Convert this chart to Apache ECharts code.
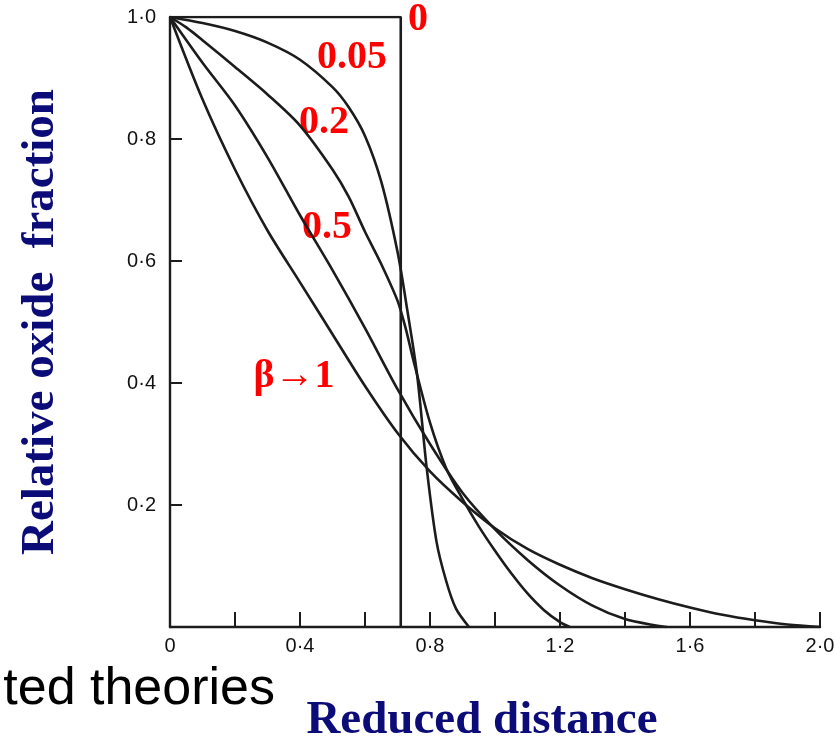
<!DOCTYPE html>
<html>
<head>
<meta charset="utf-8">
<script src="https://cdn.jsdelivr.net/npm/echarts@6/dist/echarts.min.js"></script>
<style>
  html, body { margin: 0; padding: 0; background: #fff; }
  #main { width: 834px; height: 740px; }
</style>
</head>
<body>
<div id="main"></div>
<script>
// beta = 0 : a step at the reduced distance ~0.71
const xStep = [0, 0.71, 0.71];
const yStep = [1.0, 1.0, 0];

// beta = 0.05
const x005 = [0, 0.1, 0.2, 0.3, 0.4, 0.5, 0.55, 0.6, 0.65, 0.7, 0.73, 0.76, 0.79, 0.82, 0.85, 0.88, 0.92];
const y005 = [1.0, 0.99, 0.977, 0.958, 0.93, 0.885, 0.852, 0.805, 0.73, 0.615, 0.52, 0.415, 0.26, 0.14, 0.075, 0.03, 0];

// beta = 0.2
const x02 = [0, 0.05, 0.1, 0.2, 0.3, 0.4, 0.5, 0.55, 0.6, 0.65, 0.7, 0.725, 0.75, 0.8, 0.85, 0.9, 0.95, 1.0, 1.05, 1.1, 1.15, 1.2, 1.23];
const y02 = [1.0, 0.983, 0.962, 0.918, 0.873, 0.822, 0.75, 0.705, 0.648, 0.595, 0.535, 0.49, 0.435, 0.335, 0.26, 0.21, 0.165, 0.125, 0.088, 0.055, 0.028, 0.008, 0];

// beta = 0.5
const x05 = [0, 0.1, 0.2, 0.3, 0.4, 0.5, 0.6, 0.7, 0.8, 0.9, 1.0, 1.1, 1.2, 1.3, 1.4, 1.5, 1.53];
const y05 = [1.0, 0.925, 0.855, 0.77, 0.675, 0.585, 0.49, 0.39, 0.3, 0.22, 0.16, 0.11, 0.068, 0.035, 0.013, 0.002, 0];

// beta -> 1
const x1 = [0, 0.1, 0.2, 0.3, 0.4, 0.5, 0.6, 0.7, 0.8, 0.9, 1.0, 1.1, 1.2, 1.3, 1.4, 1.5, 1.6, 1.7, 1.8, 1.9, 2.0];
const y1 = [1.0, 0.865, 0.75, 0.65, 0.565, 0.48, 0.395, 0.318, 0.255, 0.205, 0.162, 0.128, 0.102, 0.08, 0.062, 0.046, 0.032, 0.02, 0.011, 0.004, 0];

const curveLabels = ['0', '0.05', '0.2', '0.5', 'β→1'];

function pairs(xs, ys) {
  return xs.map(function (x, i) { return [x, ys[i]]; });
}

function dotLabel(v) {
  if (v === 0) return '0';
  return v.toFixed(1).replace('.', '·');
}

const lineStyle = { color: '#1c1c1c', width: 2.6 };

function curve(name, data, smooth) {
  return {
    name: name,
    type: 'line',
    data: data,
    showSymbol: false,
    smooth: smooth,
    lineStyle: lineStyle,
    silent: true
  };
}

const chartDom = document.getElementById('main');
const myChart = echarts.init(chartDom);

const redText = 'bold 40px "Liberation Serif", "DejaVu Serif", serif';

const option = {
  backgroundColor: '#fff',
  animation: false,
  grid: { left: 170, right: 14, top: 17, bottom: 113, outerBoundsMode: 'none', containLabel: false },
  xAxis: {
    type: 'value',
    min: 0,
    max: 2,
    interval: 0.2,
    name: 'Reduced distance',
    nameLocation: 'middle',
    nameGap: 70,
    nameTextStyle: {
      fontFamily: '"Liberation Serif", serif',
      fontWeight: 'bold',
      fontSize: 47,
      color: '#0c0c78',
      padding: [0, 26, 0, 0]
    },
    axisLine: { lineStyle: { color: '#1c1c1c', width: 2.4 } },
    axisTick: { inside: true, length: 15, lineStyle: { color: '#1c1c1c', width: 2 } },
    axisLabel: {
      margin: 9,
      fontFamily: '"Liberation Sans", Arial, sans-serif',
      fontSize: 20,
      color: '#111',
      formatter: function (v) {
        return Math.round(v * 10) % 4 === 0 ? dotLabel(v) : '';
      }
    },
    splitLine: { show: false }
  },
  yAxis: {
    type: 'value',
    min: 0,
    max: 1,
    interval: 0.2,
    name: 'Relative oxide  fraction',
    nameLocation: 'middle',
    nameGap: 106,
    nameRotate: 90,
    nameTextStyle: {
      fontFamily: '"Liberation Serif", serif',
      fontWeight: 'bold',
      fontSize: 47,
      color: '#0c0c78'
    },
    axisLine: { lineStyle: { color: '#1c1c1c', width: 2.4 } },
    axisTick: { inside: true, length: 12, lineStyle: { color: '#1c1c1c', width: 2 } },
    axisLabel: {
      margin: 14,
      fontFamily: '"Liberation Sans", Arial, sans-serif',
      fontSize: 20,
      color: '#111',
      formatter: function (v) { return v === 0 ? '' : dotLabel(v); }
    },
    splitLine: { show: false }
  },
  series: [
    curve(curveLabels[0], pairs(xStep, yStep), false),
    curve(curveLabels[1], pairs(x005, y005), 0.3),
    curve(curveLabels[2], pairs(x02, y02), 0.3),
    curve(curveLabels[3], pairs(x05, y05), 0.3),
    curve(curveLabels[4], pairs(x1, y1), 0.3)
  ],
  graphic: [
    { type: 'text', x: 418, y: 20, style: { text: curveLabels[0], font: redText, fill: '#ff0000', textAlign: 'center', textVerticalAlign: 'middle' } },
    { type: 'text', x: 352, y: 58, style: { text: curveLabels[1], font: redText, fill: '#ff0000', textAlign: 'center', textVerticalAlign: 'middle' } },
    { type: 'text', x: 324, y: 123, style: { text: curveLabels[2], font: redText, fill: '#ff0000', textAlign: 'center', textVerticalAlign: 'middle' } },
    { type: 'text', x: 327, y: 228, style: { text: curveLabels[3], font: redText, fill: '#ff0000', textAlign: 'center', textVerticalAlign: 'middle' } },
    { type: 'text', x: 294, y: 377, style: { text: curveLabels[4], font: redText, fill: '#ff0000', textAlign: 'center', textVerticalAlign: 'middle' } },
    { type: 'text', x: 275, y: 690, style: { text: 'ted theories', font: '52px "Liberation Sans", Arial, sans-serif', fill: '#000', textAlign: 'right', textVerticalAlign: 'middle' } }
  ]
};

option && myChart.setOption(option);
</script>
</body>
</html>
